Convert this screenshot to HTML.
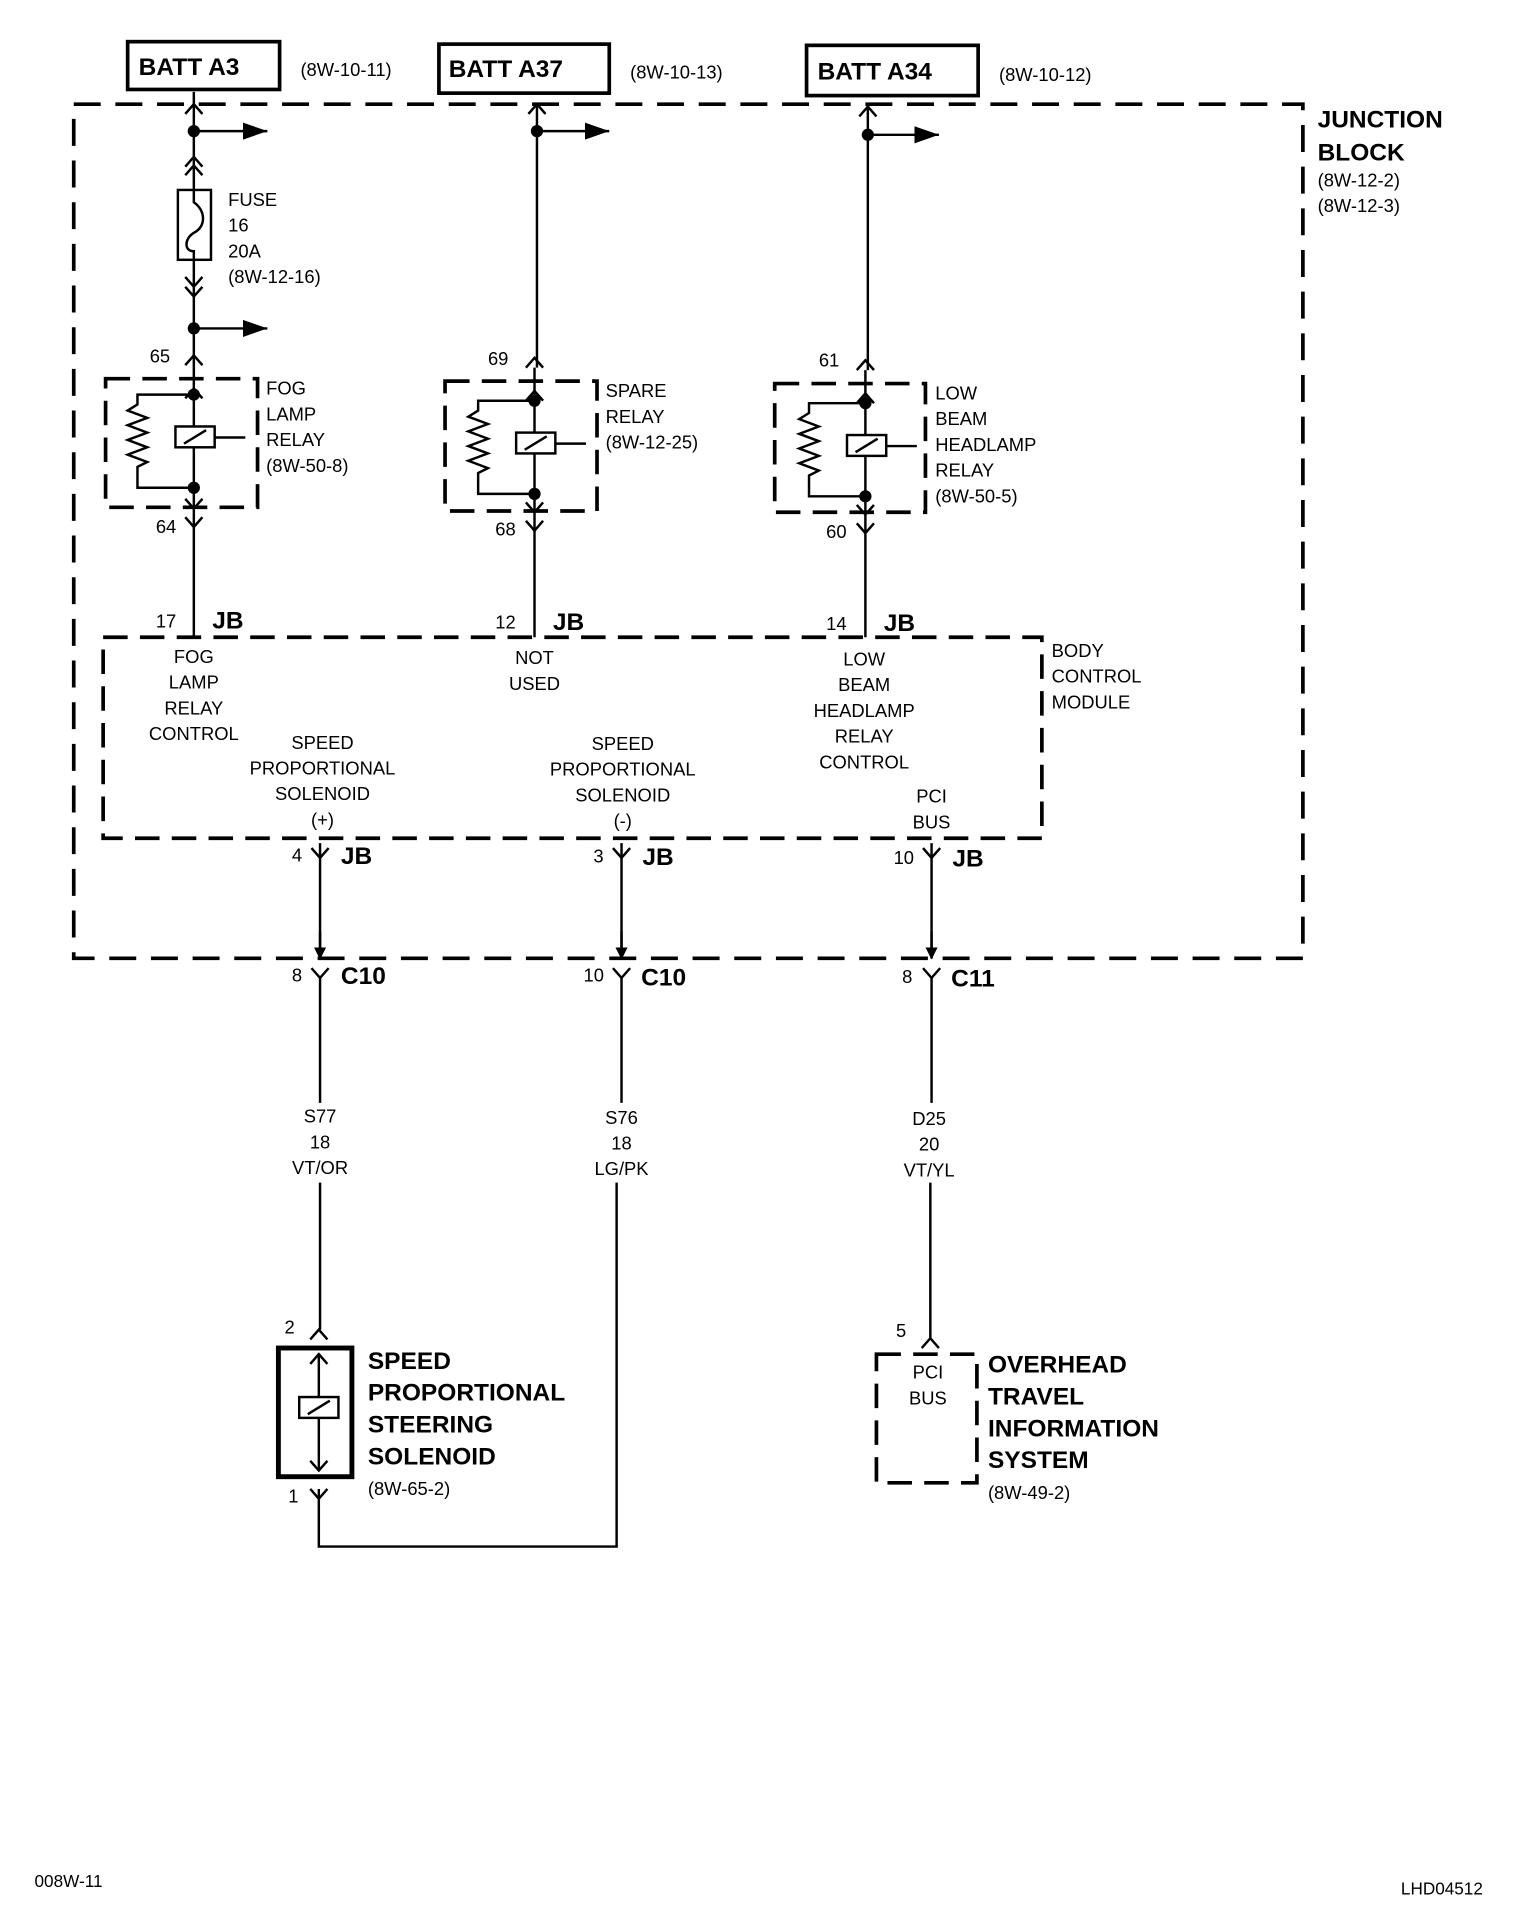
<!DOCTYPE html>
<html><head><meta charset="utf-8"><style>
html,body{margin:0;padding:0;background:#fff}
svg{display:block}
text{font-family:"Liberation Sans",sans-serif;font-size:15px;fill:#000}
.b{font-weight:bold;font-size:20px}
.m{text-anchor:middle}
</style></head><body>
<svg width="1520" height="1924" viewBox="0 0 1240 1570" xmlns="http://www.w3.org/2000/svg">
<defs>
<marker id="ar" markerWidth="10" markerHeight="10" refX="9" refY="5" orient="auto" markerUnits="userSpaceOnUse"><path d="M0,0 L10,5 L0,10 Z" fill="#000"/></marker>
<marker id="ar2" markerWidth="22" markerHeight="14" refX="20" refY="7" orient="auto" markerUnits="userSpaceOnUse"><path d="M0,0 L20,7 L0,14 Z" fill="#000"/></marker>
</defs>
<g stroke="#000" fill="none" stroke-width="2">
<!-- BATT boxes -->
<rect x="104" y="34" width="124" height="39" stroke-width="3"/>
<rect x="358" y="36" width="139" height="40" stroke-width="3"/>
<rect x="658" y="37" width="140" height="41" stroke-width="3"/>
<!-- junction block -->
<rect x="60" y="85" width="1003" height="697" stroke-width="3" stroke-dasharray="22 12"/>
<!-- BCM -->
<rect x="84" y="520" width="766" height="164" stroke-width="3" stroke-dasharray="20 10"/>
<!-- relays -->
<rect x="86" y="309" width="124" height="105" stroke-width="3" stroke-dasharray="20 10"/>
<rect x="363" y="311" width="124" height="106" stroke-width="3" stroke-dasharray="20 10"/>
<rect x="632" y="313" width="123" height="105" stroke-width="3" stroke-dasharray="20 10"/>

<!-- wire 1 -->
<path d="M158 75 V520"/>
<path d="M151 93 L158 85 L165 93"/>
<path d="M158 107 H218" marker-end="url(#ar2)"/>
<path d="M151 136 L158 128 L165 136 M151 143 L158 135 L165 143"/>
<rect x="145" y="155" width="27" height="57" fill="#fff"/>
<path d="M158 155 V165 C168 172 168 185 158 190 C150 195 150 205 158 205 V212"/>
<path d="M151 226 L158 234 L165 226 M151 234 L158 242 L165 234"/>
<path d="M158 268 H218" marker-end="url(#ar2)"/>
<path d="M151 298 L158 290 L165 298"/>
<path d="M151 325 L158 317 L165 325"/>
<path d="M151 407 L158 415 L165 407"/>
<path d="M151 422 L158 430 L165 422"/>
<!-- wire 2 -->
<path d="M438 84 V300 M436 300 V520"/>
<path d="M431 93 L438 85 L445 93"/>
<path d="M438 107 H497" marker-end="url(#ar2)"/>
<path d="M429 300 L436 292 L443 300"/>
<path d="M429 327 L436 319 L443 327"/>
<path d="M429 410 L436 418 L443 410"/>
<path d="M429 425 L436 433 L443 425"/>
<!-- wire 3 -->
<path d="M708 84 V302 M706 302 V520"/>
<path d="M701 95 L708 87 L715 95"/>
<path d="M708 110 H766" marker-end="url(#ar2)"/>
<path d="M699 302 L706 294 L713 302"/>
<path d="M699 329 L706 321 L713 329"/>
<path d="M699 412 L706 420 L713 412"/>
<path d="M699 427 L706 435 L713 427"/>
<!-- relay internals -->
<g id="r1">
<path d="M158 322 H112 V330 l-8 5 16 6 -16 6 16 6 -16 6 16 6 -16 6 16 6 -8 4 V398 H158"/>
<rect x="143" y="348" width="32" height="17" fill="#fff"/>
<path d="M150 362 L168 351 M175 357 H200"/>
</g>
<use href="#r1" x="278" y="5"/>
<use href="#r1" x="548" y="7"/>
<!-- BCM bottom connectors -->
<path d="M261 688 V782 M507 688 V782 M760 688 V782"/>
<path d="M254 692 L261 700 L268 692 M500 692 L507 700 L514 692 M753 692 L760 700 L767 692"/>
<path d="M261 760 V782" marker-end="url(#ar)"/>
<path d="M507 760 V782" marker-end="url(#ar)"/>
<path d="M760 760 V782" marker-end="url(#ar)"/>
<path d="M254 790 L261 798 L268 790 M500 790 L507 798 L514 790 M753 790 L760 798 L767 790"/>
<path d="M261 798 V900 M261 965 V1085 M507 798 V900 M503 965 V1262 H260 V1215 M760 798 V900 M759 965 V1092"/>
<!-- solenoid -->
<rect x="227" y="1100" width="60" height="105" stroke-width="4"/>
<path d="M253 1093 L260 1085 L267 1093"/>
<path d="M260 1105 V1200"/>
<path d="M253 1113 L260 1105 L267 1113 M253 1192 L260 1200 L267 1192"/>
<rect x="244" y="1140" width="32" height="17" fill="#fff"/>
<path d="M251 1154 L269 1143"/>
<path d="M253 1215 L260 1223 L267 1215"/>
<!-- OTIS -->
<rect x="715" y="1105" width="82" height="105" stroke-width="3" stroke-dasharray="20 10"/>
<path d="M752 1100 L759 1092 L766 1100"/>
</g>
<g fill="#000">
<circle cx="158" cy="107" r="5"/><circle cx="158" cy="268" r="5"/>
<circle cx="158" cy="322" r="5"/><circle cx="158" cy="398" r="5"/>
<circle cx="438" cy="107" r="5"/><circle cx="436" cy="327" r="5"/><circle cx="436" cy="403" r="5"/>
<circle cx="708" cy="110" r="5"/><circle cx="706" cy="329" r="5"/><circle cx="706" cy="405" r="5"/>
</g>
<text x="113" y="61" class="b">BATT A3</text>
<text x="245" y="62">(8W-10-11)</text>
<text x="366" y="63" class="b">BATT A37</text>
<text x="514" y="64">(8W-10-13)</text>
<text x="667" y="65" class="b">BATT A34</text>
<text x="815" y="66">(8W-10-12)</text>
<text x="1075" y="104" class="b">JUNCTION</text>
<text x="1075" y="131" class="b">BLOCK</text>
<text x="1075" y="152">(8W-12-2)</text>
<text x="1075" y="173">(8W-12-3)</text>
<text x="186" y="168">FUSE</text><text x="186" y="189">16</text><text x="186" y="210">20A</text><text x="186" y="231">(8W-12-16)</text>
<text x="122" y="296">65</text><text x="398" y="298">69</text><text x="668" y="299">61</text>
<text x="217" y="322">FOG</text><text x="217" y="343">LAMP</text><text x="217" y="364">RELAY</text><text x="217" y="385">(8W-50-8)</text>
<text x="494" y="324">SPARE</text><text x="494" y="345">RELAY</text><text x="494" y="366">(8W-12-25)</text>
<text x="763" y="326">LOW</text><text x="763" y="347">BEAM</text><text x="763" y="368">HEADLAMP</text><text x="763" y="389">RELAY</text><text x="763" y="410">(8W-50-5)</text>
<text x="127" y="435">64</text><text x="404" y="437">68</text><text x="674" y="439">60</text>
<text x="127" y="512">17</text><text x="173" y="513" class="b">JB</text>
<text x="404" y="513">12</text><text x="451" y="514" class="b">JB</text>
<text x="674" y="514">14</text><text x="721" y="515" class="b">JB</text>
<text x="858" y="536">BODY</text><text x="858" y="557">CONTROL</text><text x="858" y="578">MODULE</text>
<g class="m">
<text x="158" y="541" class="m">FOG</text><text x="158" y="562" class="m">LAMP</text><text x="158" y="583" class="m">RELAY</text><text x="158" y="604" class="m">CONTROL</text>
<text x="436" y="542" class="m">NOT</text><text x="436" y="563" class="m">USED</text>
<text x="705" y="543" class="m">LOW</text><text x="705" y="564" class="m">BEAM</text><text x="705" y="585" class="m">HEADLAMP</text><text x="705" y="606" class="m">RELAY</text><text x="705" y="627" class="m">CONTROL</text>
<text x="263" y="611" class="m">SPEED</text><text x="263" y="632" class="m">PROPORTIONAL</text><text x="263" y="653" class="m">SOLENOID</text><text x="263" y="674" class="m">(+)</text>
<text x="508" y="612" class="m">SPEED</text><text x="508" y="633" class="m">PROPORTIONAL</text><text x="508" y="654" class="m">SOLENOID</text><text x="508" y="675" class="m">(-)</text>
<text x="760" y="655" class="m">PCI</text><text x="760" y="676" class="m">BUS</text>
<text x="261" y="916" class="m">S77</text><text x="261" y="937" class="m">18</text><text x="261" y="958" class="m">VT/OR</text>
<text x="507" y="917" class="m">S76</text><text x="507" y="938" class="m">18</text><text x="507" y="959" class="m">LG/PK</text>
<text x="758" y="918" class="m">D25</text><text x="758" y="939" class="m">20</text><text x="758" y="960" class="m">VT/YL</text>
<text x="757" y="1125" class="m">PCI</text><text x="757" y="1146" class="m">BUS</text>
</g>
<text x="238" y="703">4</text><text x="278" y="705" class="b">JB</text>
<text x="484" y="704">3</text><text x="524" y="706" class="b">JB</text>
<text x="729" y="705">10</text><text x="777" y="707" class="b">JB</text>
<text x="238" y="801">8</text><text x="278" y="803" class="b">C10</text>
<text x="476" y="801">10</text><text x="523" y="804" class="b">C10</text>
<text x="736" y="802">8</text><text x="776" y="805" class="b">C11</text>
<text x="232" y="1088">2</text><text x="235" y="1226">1</text><text x="731" y="1091">5</text>
<text x="300" y="1117" class="b">SPEED</text><text x="300" y="1143" class="b">PROPORTIONAL</text><text x="300" y="1169" class="b">STEERING</text><text x="300" y="1195" class="b">SOLENOID</text>
<text x="300" y="1220">(8W-65-2)</text>
<text x="806" y="1120" class="b">OVERHEAD</text><text x="806" y="1146" class="b">TRAVEL</text><text x="806" y="1172" class="b">INFORMATION</text><text x="806" y="1198" class="b">SYSTEM</text>
<text x="806" y="1223">(8W-49-2)</text>
<text x="28" y="1540" style="font-size:14px">008W-11</text>
<text x="1143" y="1546" style="font-size:14px">LHD04512</text>
</svg>
</body></html>
